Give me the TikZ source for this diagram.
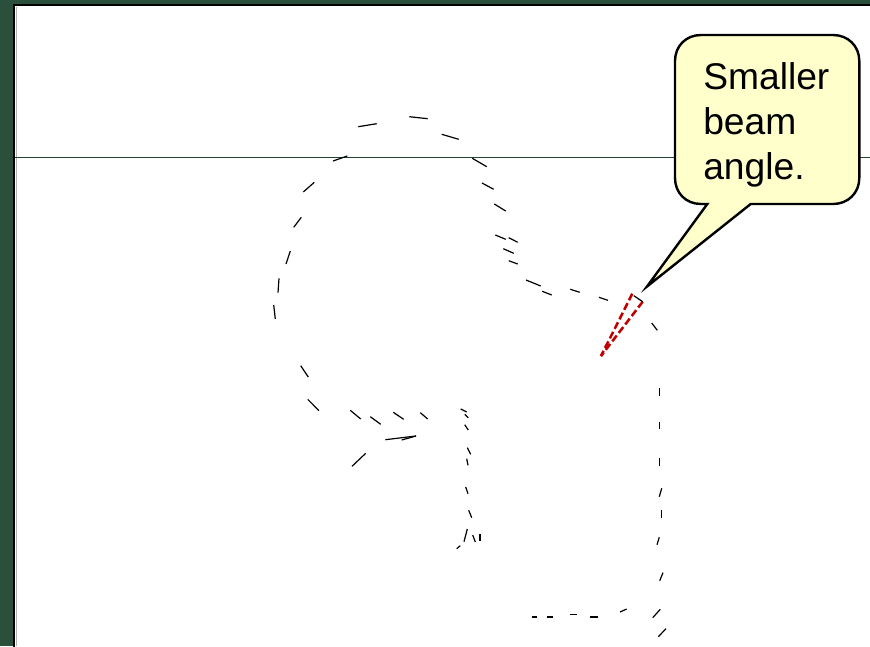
\documentclass[tikz,border=0pt]{standalone}
\usepackage{fontspec}
\setmainfont{Liberation Sans}
\usepackage{xcolor}
\usetikzlibrary{positioning}
\definecolor{slidegreen}{HTML}{2A4F3A}
\definecolor{notefill}{HTML}{FFFFCC}
\definecolor{beamred}{HTML}{C00000}
\begin{document}
\begin{tikzpicture}[
 x=0.75pt,y=-0.75pt,
 pagearea/.style={draw=black,line width=1.6pt,fill=white},
 horizon/.style={draw=slidegreen!85!black,line width=0.6pt},
 trace/.style={draw=black,line width=0.9pt},
 beam/.style={draw=beamred,line width=1.9pt,dash pattern=on 5.5pt off 2.5pt},
 bubble/.style={draw=black,line width=1.8pt,fill=notefill,miter limit=12},
 notetext/.style={align=left,inner sep=0pt,anchor=north west,font=\fontsize{27.9}{33.75}\selectfont},
]
\useasboundingbox (0,0) rectangle (870,646);
\fill[slidegreen] (0,0) rectangle (870,646);
\draw[pagearea] (14.2,5) -- (872,5) -- (872,648) -- (14.2,648) -- cycle;
\draw[gray!60,line width=0.6pt] (15.9,6.5) -- (15.9,646);
\coordinate (left) at (15,157);
\coordinate (right) at (870,157);
\draw[horizon] (left) -- (right);
\foreach \xa/\ya/\xb/\yb in {
 358.3/126.7/376.7/123.7, 409.3/116.7/427.7/118.7, 441.7/134.3/458.7/139.3,
 333/161/347.3/156, 472.3/158.3/486.7/166.7, 482/183/493.7/189.3,
 494.3/204/505.7/211, 303.3/192/314.3/182.3, 293.7/227.3/301.3/217.3,
 286/264/290.3/251, 278/292.7/279/278.3, 273.7/305/275.3/319,
 495.3/235/505.7/239.3, 508.7/237.7/517.7/242.3, 503.3/248.7/513.7/253.3,
 508.7/260.7/517.7/264, 526/280/540.7/286, 542.3/291.3/551.7/295,
 570.3/289.3/579.7/292.3, 599/297.3/608/300.3,
 651.7/323/657.3/330.3, 300.7/365.7/308.3/377, 307.7/399.3/319/410.7,
 350.3/410.3/360.7/419, 370.3/416.7/380.7/424.3, 393.3/412.3/403.7/419.3,
 420.3/412.7/427.7/419, 460.7/409/466.7/412, 464.7/414.3/468.3/417.7,
 464.7/424.7/468.3/430, 467.3/447.7/470.7/454.3, 466.7/458.7/468/465.3,
 465.7/487/468/493.7, 468.7/510.3/471.7/517.7, 467.3/529/464/541.7,
 456.7/548.7/460.3/545.7, 472.7/535/475.3/542, 480/534.3/480/541,
 385.3/439.7/416/436, 401.7/440/416/436, 352/466.3/365.7/453.3,
 659.7/388.3/659.7/396.3, 659.7/421.7/659.7/429.3, 659.7/458/659.7/465.7,
 661.7/488.3/659.3/496.7, 661.3/510/661.3/517.7, 659.3/537.3/657/544.7,
 663/572.7/659.7/580.7, 660.3/609.3/652.7/617.7, 666/628.7/658.3/636.7,
 626.7/609/620/612, 531.7/617/537.3/617, 547.3/617/553/617,
 570/614.3/577.3/614.3, 590.3/617/597.7/617}
 \draw[trace] (\xa,\ya) -- (\xb,\yb);
\coordinate (apex) at (601,356);
\coordinate (tipa) at (632.3,293.7);
\coordinate (tipb) at (642.7,301.7);
\draw[beam] (tipa) -- (apex);
\draw[beam] (tipb) -- (apex);
\draw[trace] (tipa) ++(1.5,2) -- (tipb);
\draw[bubble] (707.3,204) -- (701,204)
 .. controls (686,204) and (675,193) .. (675,178) -- (675,61)
 .. controls (675,46) and (686,35) .. (701,35) -- (833,35)
 .. controls (848,35) and (859.3,46) .. (859.3,61) -- (859.3,178)
 .. controls (859.3,193) and (848,204) .. (833,204) -- (750.7,204)
 -- (647,286.5) -- cycle;
\node[notetext] (note) at (703,62) {Smaller\\beam\\angle.};
\end{tikzpicture}
\end{document}
